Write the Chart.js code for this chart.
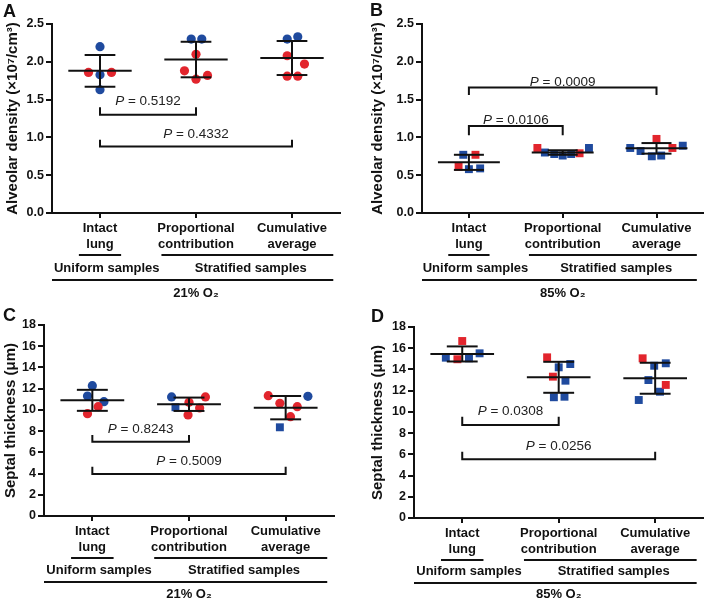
<!DOCTYPE html>
<html>
<head>
<meta charset="utf-8">
<script src="https://cdn.jsdelivr.net/npm/chart.js@4/dist/chart.umd.min.js"></script>
<style>
    body { margin: 0; background: #fff; width: 709px; height: 601px; position: relative; overflow: hidden; font-family: "Liberation Sans", Arial, sans-serif; }
    canvas { position: absolute; }
    .letter { position: absolute; font-weight: bold; font-size: 18px; color: #111; line-height: 18px; }
</style>
</head>
<body>
<canvas id="chartA" width="354" height="300" style="left:0;top:0"></canvas>
<canvas id="chartB" width="355" height="300" style="left:354px;top:0"></canvas>
<canvas id="chartC" width="354" height="301" style="left:0;top:300px"></canvas>
<canvas id="chartD" width="355" height="301" style="left:354px;top:300px"></canvas>
<div class="letter" style="left:3px;top:2px">A</div>
<div class="letter" style="left:370px;top:1px">B</div>
<div class="letter" style="left:3px;top:306px">C</div>
<div class="letter" style="left:371px;top:307px">D</div>
<script>
// Kategorien und Gruppenbeschriftungen
const categories = [['Intact', 'lung'], ['Proportional', 'contribution'], ['Cumulative', 'average']];
const groupLabels = ['Uniform samples', 'Stratified samples'];

// A: Alveolardichte, 21% O2 (x = Kategorie + Streuung)
const aBlueX = [1.0, 1.0, 1.0, 1.95, 2.06, 2.95, 3.06];
const aBlueY = [2.20, 1.83, 1.63, 2.30, 2.30, 2.30, 2.33];
const aRedX = [0.88, 1.12, 2.0, 1.88, 2.0, 2.12, 2.95, 3.13, 2.95, 3.06];
const aRedY = [1.86, 1.86, 2.10, 1.88, 1.77, 1.82, 2.08, 1.97, 1.81, 1.81];
const aMeans = [1.88, 2.03, 2.05];
const aSds = [0.21, 0.235, 0.225];
const aPValues = ['0.5192', '0.4332'];
const aBracketEnd = [2, 3];
const aBracketY = [1.30, 0.88];
const aBracketTip = [1.40, 0.97];

// B: Alveolardichte, 85% O2
const bBlueX = [0.94, 1.0, 1.12, 1.81, 1.91, 2.0, 2.09, 2.28, 2.72, 2.83, 2.95, 3.05, 3.28];
const bBlueY = [0.77, 0.58, 0.59, 0.80, 0.78, 0.76, 0.78, 0.86, 0.86, 0.82, 0.75, 0.76, 0.89];
const bRedX = [1.07, 0.89, 1.73, 2.18, 3.0, 3.17];
const bRedY = [0.77, 0.61, 0.86, 0.79, 0.98, 0.86];
const bMeans = [0.67, 0.80, 0.855];
const bSds = [0.10, 0.03, 0.07];
const bPValues = ['0.0106', '0.0009'];
const bBracketEnd = [2, 3];
const bBracketY = [1.15, 1.66];
const bBracketTip = [1.03, 1.56];

// C: Septendicke, 21% O2
const cBlueX = [1.0, 0.95, 1.12, 1.82, 3.23];
const cBlueY = [12.28, 11.31, 10.77, 11.22, 11.28];
const cBlueSqX = [1.86, 2.94];
const cBlueSqY = [10.25, 8.36];
const cRedX = [1.06, 0.95, 2.0, 2.11, 2.17, 1.99, 2.82, 2.94, 3.12, 3.05];
const cRedY = [10.30, 9.64, 10.72, 10.18, 11.22, 9.52, 11.34, 10.62, 10.30, 9.36];
const cMeans = [10.9, 10.53, 10.21];
const cSds = [0.99, 0.63, 1.10];
const cPValues = ['0.8243', '0.5009'];
const cBracketEnd = [2, 3];
const cBracketY = [7.0, 3.96];
const cBracketTip = [7.63, 4.65];

// D: Septendicke, 85% O2
const dBlueX = [1.18, 0.83, 1.07, 2.12, 2.0, 2.07, 1.95, 2.06, 3.11, 2.99, 2.93, 3.05, 2.83];
const dBlueY = [15.52, 15.11, 15.05, 14.51, 14.2, 12.94, 11.38, 11.43, 14.58, 14.35, 13.0, 11.9, 11.12];
const dRedX = [1.0, 0.95, 1.88, 1.94, 2.87, 3.11];
const dRedY = [16.68, 14.96, 15.14, 13.32, 15.05, 12.54];
const dMeans = [15.46, 13.26, 13.17];
const dSds = [0.71, 1.46, 1.46];
const dPValues = ['0.0308', '0.0256'];
const dBracketEnd = [2, 3];
const dBracketY = [8.77, 5.53];
const dBracketTip = [9.55, 6.24];

const BLUE = '#1f4a9e';
const RED = '#e2252d';
const INK = '#111';
const FONT = '"Liberation Sans", Arial, sans-serif';

function toPoints(xs, ys) {
    return xs.map((x, i) => ({ x: x, y: ys[i] }));
}

function line(ctx, x1, y1, x2, y2) {
    ctx.beginPath();
    ctx.moveTo(x1, y1);
    ctx.lineTo(x2, y2);
    ctx.stroke();
}

// Mittelwert und SD als Fehlerbalken
const errorBarPlugin = {
    id: 'errorBars',
    afterDatasetsDraw(chart, args, opts) {
        const { ctx, scales: { x, y } } = chart;
        ctx.save();
        ctx.strokeStyle = INK;
        ctx.lineWidth = 2;
        opts.means.forEach((m, i) => {
            const c = i + 1, sd = opts.sds[i];
            line(ctx, x.getPixelForValue(c - 0.33), y.getPixelForValue(m), x.getPixelForValue(c + 0.33), y.getPixelForValue(m));
            line(ctx, x.getPixelForValue(c), y.getPixelForValue(m - sd), x.getPixelForValue(c), y.getPixelForValue(m + sd));
            [m + sd, m - sd].forEach(v => {
                line(ctx, x.getPixelForValue(c - 0.16), y.getPixelForValue(v), x.getPixelForValue(c + 0.16), y.getPixelForValue(v));
            });
        });
        ctx.restore();
    }
};

// Signifikanz-Klammern mit P-Werten
const bracketPlugin = {
    id: 'brackets',
    afterDatasetsDraw(chart, args, opts) {
        const { ctx, scales: { x, y } } = chart;
        ctx.save();
        ctx.strokeStyle = INK;
        ctx.fillStyle = '#222';
        ctx.lineWidth = 2;
        opts.values.forEach((p, i) => {
            const x1 = x.getPixelForValue(1), x2 = x.getPixelForValue(opts.ends[i]);
            const yl = y.getPixelForValue(opts.levels[i]), yt = y.getPixelForValue(opts.tips[i]);
            ctx.beginPath();
            ctx.moveTo(x1, yt);
            ctx.lineTo(x1, yl);
            ctx.lineTo(x2, yl);
            ctx.lineTo(x2, yt);
            ctx.stroke();
            const rest = ' = ' + p;
            ctx.font = 'italic 13.5px ' + FONT;
            const wP = ctx.measureText('P').width;
            ctx.font = '13.5px ' + FONT;
            const wR = ctx.measureText(rest).width;
            const x0 = (x1 + x2) / 2 - (wP + wR) / 2;
            const base = Math.min(yl, yt) - 2;
            ctx.textAlign = 'left';
            ctx.textBaseline = 'alphabetic';
            ctx.font = 'italic 13.5px ' + FONT;
            ctx.fillText('P', x0, base);
            ctx.font = '13.5px ' + FONT;
            ctx.fillText(rest, x0 + wP, base);
        });
        ctx.restore();
    }
};

// Gruppenlinien und Beschriftungen unter der X-Achse
const groupPlugin = {
    id: 'groups',
    afterDraw(chart, args, opts) {
        const { ctx, chartArea, scales: { x } } = chart;
        const b = chartArea.bottom;
        const s = opts.squeeze;
        ctx.save();
        ctx.strokeStyle = INK;
        ctx.fillStyle = INK;
        ctx.lineWidth = 2;
        line(ctx, x.getPixelForValue(0.78), b + 42, x.getPixelForValue(1.22), b + 42);
        line(ctx, x.getPixelForValue(1.64), b + 42, x.getPixelForValue(3.43), b + 42);
        line(ctx, chartArea.left, b + 67 - s, x.getPixelForValue(3.43), b + 67 - s);
        ctx.font = 'bold 13px ' + FONT;
        ctx.textAlign = 'center';
        ctx.textBaseline = 'middle';
        ctx.fillText(groupLabels[0], x.getPixelForValue(1.07), b + 55 - s);
        ctx.fillText(groupLabels[1], x.getPixelForValue(2.57), b + 55 - s);
        ctx.fillText(opts.oxygen, x.getPixelForValue(2.0), b + 80 - 2 * s);
        ctx.restore();
    }
};

function createChart(id, p) {
    const ctx = document.getElementById(id).getContext('2d');
    return new Chart(ctx, {
        type: 'scatter',
        data: { datasets: p.datasets },
        options: {
            responsive: false,
            animation: false,
            events: [],
            layout: { padding: { top: p.top, right: p.right, left: 0, bottom: 0 } },
            scales: {
                x: {
                    type: 'linear',
                    min: 0.5,
                    max: 3.5,
                    afterBuildTicks: s => { s.ticks = [1, 2, 3].map(v => ({ value: v })); },
                    afterFit: s => { s.height = p.xHeight; },
                    border: { display: true, color: INK, width: 2 },
                    grid: { drawOnChartArea: false, drawTicks: true, tickLength: 5, color: INK, lineWidth: 2 },
                    ticks: {
                        color: INK,
                        padding: 3,
                        maxRotation: 0,
                        font: { family: FONT, size: 13, weight: 'bold' },
                        callback: v => categories[v - 1]
                    }
                },
                y: {
                    min: 0,
                    max: p.yMax,
                    afterFit: s => { s.width = p.yWidth; },
                    border: { display: true, color: INK, width: 2 },
                    grid: { drawOnChartArea: false, drawTicks: true, tickLength: 6, color: INK, lineWidth: 2 },
                    ticks: {
                        stepSize: p.yStep,
                        color: INK,
                        padding: 2,
                        font: { family: FONT, size: 12.5, weight: 'bold' },
                        callback: v => p.yStep < 1 ? v.toFixed(1) : String(v)
                    },
                    title: {
                        display: true,
                        text: p.yTitle,
                        color: INK,
                        padding: { top: p.titlePad, bottom: 0 },
                        font: { family: FONT, size: 15, weight: 'bold' }
                    }
                }
            },
            plugins: {
                legend: { display: false },
                tooltip: { enabled: false },
                errorBars: { means: p.means, sds: p.sds },
                brackets: { values: p.pValues, ends: p.ends, levels: p.levels, tips: p.tips },
                groups: { oxygen: p.oxygen, squeeze: p.squeeze }
            }
        },
        plugins: [errorBarPlugin, bracketPlugin, groupPlugin]
    });
}

function pointSet(xs, ys, color, style) {
    return {
        data: toPoints(xs, ys),
        backgroundColor: color,
        borderWidth: 0,
        pointStyle: style,
        pointRadius: style === 'rect' ? 5.6 : 4.6,
        clip: false
    };
}

const densityTitle = 'Alveolar density (×10⁷/cm³)';
const septalTitle = 'Septal thickness (μm)';

createChart('chartA', {
    datasets: [pointSet(aRedX, aRedY, RED, 'circle'), pointSet(aBlueX, aBlueY, BLUE, 'circle')],
    top: 24, right: 14, xHeight: 87, yWidth: 52, titlePad: 4,
    yMax: 2.5, yStep: 0.5, yTitle: densityTitle,
    means: aMeans, sds: aSds, pValues: aPValues, ends: aBracketEnd, levels: aBracketY, tips: aBracketTip,
    oxygen: '21% O₂', squeeze: 0
});

createChart('chartB', {
    datasets: [pointSet(bRedX, bRedY, RED, 'rect'), pointSet(bBlueX, bBlueY, BLUE, 'rect')],
    top: 24, right: 1, xHeight: 87, yWidth: 68, titlePad: 15,
    yMax: 2.5, yStep: 0.5, yTitle: densityTitle,
    means: bMeans, sds: bSds, pValues: bPValues, ends: bBracketEnd, levels: bBracketY, tips: bBracketTip,
    oxygen: '85% O₂', squeeze: 0
});

createChart('chartC', {
    datasets: [pointSet(cRedX, cRedY, RED, 'circle'), pointSet(cBlueX, cBlueY, BLUE, 'circle'), pointSet(cBlueSqX, cBlueSqY, BLUE, 'rect')],
    top: 25, right: 20, xHeight: 85, yWidth: 44, titlePad: 2,
    yMax: 18, yStep: 2, yTitle: septalTitle,
    means: cMeans, sds: cSds, pValues: cPValues, ends: cBracketEnd, levels: cBracketY, tips: cBracketTip,
    oxygen: '21% O₂', squeeze: 1
});

createChart('chartD', {
    datasets: [pointSet(dRedX, dRedY, RED, 'rect'), pointSet(dBlueX, dBlueY, BLUE, 'rect')],
    top: 27, right: 5, xHeight: 83, yWidth: 60, titlePad: 15,
    yMax: 18, yStep: 2, yTitle: septalTitle,
    means: dMeans, sds: dSds, pValues: dPValues, ends: dBracketEnd, levels: dBracketY, tips: dBracketTip,
    oxygen: '85% O₂', squeeze: 2
});
</script>
</body>
</html>
